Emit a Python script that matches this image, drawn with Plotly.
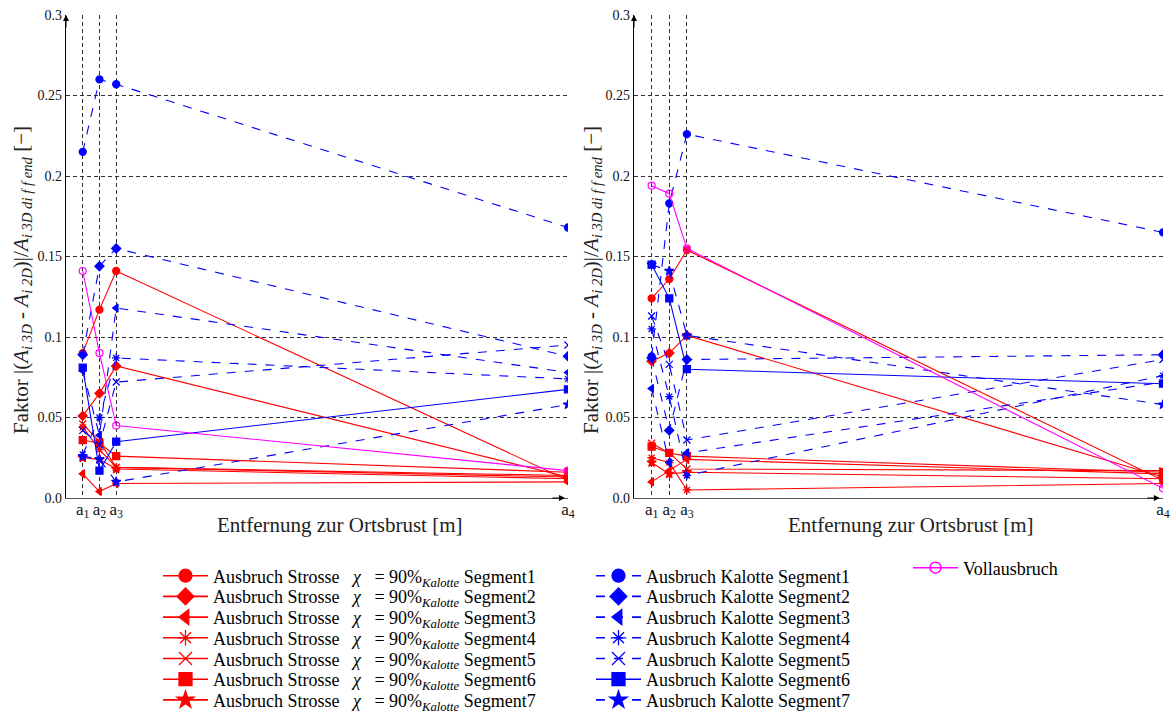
import plotly.graph_objects as go

# Messpunkte entlang der Vortriebsachse
abstand = [1, 2, 3, 30]
abstand_text = ["a<sub>1</sub>", "a<sub>2</sub>", "a<sub>3</sub>", "a<sub>4</sub>"]
segmente = ["Segment1", "Segment2", "Segment3", "Segment4", "Segment5", "Segment6", "Segment7"]
symbole = ["circle", "diamond", "triangle-left", "asterisk-open", "x-thin-open", "square", "star"]
kalotte_dash = ["dash", "dash", "dash", "dash", "dash", "solid", "dash"]

y_ticks = [0, 0.05, 0.1, 0.15, 0.2, 0.25, 0.3]
y_ticktext = ["0.0", "0.05", "0.1", "0.15", "0.2", "0.25", "0.3"]

# linkes Diagramm
strosse_links = [
    [0.090, 0.117, 0.141, 0.011],
    [0.051, 0.065, 0.082, 0.013],
    [0.015, 0.004, 0.009, 0.010],
    [0.044, 0.030, 0.019, 0.013],
    [0.046, 0.035, 0.019, 0.014],
    [0.036, 0.034, 0.026, 0.016],
    [0.025, 0.024, 0.018, 0.012],
]
kalotte_links = [
    [0.215, 0.260, 0.257, 0.168],
    [0.089, 0.144, 0.155, 0.088],
    [0.079, 0.039, 0.118, 0.078],
    [0.027, 0.050, 0.087, 0.074],
    [0.042, 0.033, 0.072, 0.095],
    [0.081, 0.017, 0.035, 0.0675],
    [0.026, 0.024, 0.010, 0.058],
]
voll_links = [0.141, 0.090, 0.045, 0.017]

# rechtes Diagramm
strosse_rechts = [
    [0.124, 0.136, 0.154, 0.011],
    [0.085, 0.090, 0.101, 0.013],
    [0.010, 0.017, 0.024, 0.015],
    [0.025, 0.022, 0.005, 0.009],
    [0.034, 0.028, 0.018, 0.017],
    [0.032, 0.028, 0.026, 0.016],
    [0.022, 0.015, 0.016, 0.012],
]
kalotte_rechts = [
    [0.088, 0.183, 0.226, 0.165],
    [0.087, 0.042, 0.086, 0.089],
    [0.068, 0.022, 0.028, 0.072],
    [0.105, 0.063, 0.014, 0.076],
    [0.113, 0.083, 0.036, 0.086],
    [0.145, 0.124, 0.080, 0.071],
    [0.145, 0.141, 0.101, 0.058],
]
voll_rechts = [0.194, 0.189, 0.155, 0.006]

ROT = "#ff0000"
BLAU = "#0000ff"
MAGENTA = "#ff00ff"
SCHRIFT = "Liberation Serif"
NB = "\u00a0"

W, H = 1172, 713
PLOT_TOP, PLOT_BOTTOM = 15, 498


def paper_y(py):
    return (PLOT_BOTTOM - py) / (PLOT_BOTTOM - PLOT_TOP)


fig = go.Figure()


def marker(symbol, color, size):
    return dict(symbol=symbol, size=size, color=color,
                line=dict(color=color, width=1.3))


panels = [
    ("x", "y", strosse_links, kalotte_links, voll_links),
    ("x2", "y2", strosse_rechts, kalotte_rechts, voll_rechts),
]
for xa, ya, strosse, kalotte, voll in panels:
    for i, werte in enumerate(strosse):
        fig.add_trace(go.Scatter(
            x=abstand, y=werte, xaxis=xa, yaxis=ya, mode="lines+markers",
            line=dict(color=ROT, width=1.1),
            marker=marker(symbole[i], ROT, 7), showlegend=False))
    for i, werte in enumerate(kalotte):
        fig.add_trace(go.Scatter(
            x=abstand, y=werte, xaxis=xa, yaxis=ya, mode="lines+markers",
            line=dict(color=BLAU, width=1.1, dash=kalotte_dash[i]),
            marker=marker(symbole[i], BLAU, 7), showlegend=False))
    fig.add_trace(go.Scatter(
        x=abstand, y=voll, xaxis=xa, yaxis=ya, mode="lines+markers",
        line=dict(color=MAGENTA, width=1.1),
        marker=dict(symbol="circle-open", size=7, color=MAGENTA,
                    line=dict(color=MAGENTA, width=1.2)),
        showlegend=False))

# Legende: jede Zeile bekommt eine eigene Legende, damit der Zeilenabstand passt
legend_common = dict(
    font=dict(family=SCHRIFT, size=18, color="#000"), bgcolor="rgba(0,0,0,0)",
    orientation="v", xanchor="left", yanchor="middle", tracegroupgap=0, itemwidth=45,
)
legend_layouts = {}
ZEILE0, ZEILENABSTAND = 576, 20.7


def legend_id(n):
    return "legend" if n == 1 else f"legend{n}"


n = 1
for i, seg in enumerate(segmente):
    lid = legend_id(n)
    fig.add_trace(go.Scatter(
        x=[None], y=[None], mode="lines+markers", legend=lid,
        name=("Ausbruch Strosse" + NB * 3 + "<i>χ</i>" + NB * 3 + "=" + NB
              + "90%<sub><i>Kalotte</i></sub> " + seg),
        line=dict(color=ROT, width=1.6),
        marker=marker(symbole[i], ROT, 13)))
    legend_layouts[lid] = dict(x=158 / W, y=paper_y(ZEILE0 + ZEILENABSTAND * i), **legend_common)
    n += 1
for i, seg in enumerate(segmente):
    lid = legend_id(n)
    fig.add_trace(go.Scatter(
        x=[None], y=[None], mode="lines+markers", legend=lid,
        name="Ausbruch Kalotte " + seg,
        line=dict(color=BLAU, width=1.6, dash=kalotte_dash[i]),
        marker=marker(symbole[i], BLAU, 13)))
    legend_layouts[lid] = dict(x=591 / W, y=paper_y(ZEILE0 + ZEILENABSTAND * i), **legend_common)
    n += 1
lid = legend_id(n)
fig.add_trace(go.Scatter(
    x=[None], y=[None], mode="lines+markers", legend=lid,
    name="Vollausbruch",
    line=dict(color=MAGENTA, width=1.6),
    marker=dict(symbol="circle-open", size=11, color=MAGENTA,
                line=dict(color=MAGENTA, width=1.5))))
legend_layouts[lid] = dict(x=908 / W, y=paper_y(568), **legend_common)

xaxis_common = dict(
    range=[0, 30], tickvals=abstand, ticktext=abstand_text, ticks="",
    showgrid=True, gridcolor="#333", griddash="4px,3px", gridwidth=1,
    zeroline=False, showline=True, linecolor="#555", linewidth=1.2,
    tickfont=dict(family=SCHRIFT, size=17, color="#111"), ticklabelstandoff=-5,
)
yaxis_common = dict(
    range=[0, 0.3], tickvals=y_ticks, ticktext=y_ticktext, ticks="",
    showgrid=True, gridcolor="#333", griddash="4px,3px", gridwidth=1,
    zeroline=False, showline=True, linecolor="#000", linewidth=1.2,
    tickfont=dict(family=SCHRIFT, size=14, color="#111"),
)

fig.update_layout(
    width=W, height=H,
    margin=dict(l=0, r=0, t=PLOT_TOP, b=H - PLOT_BOTTOM, autoexpand=False),
    paper_bgcolor="white", plot_bgcolor="white",
    xaxis=dict(domain=[66 / W, 568 / W], anchor="y", **xaxis_common),
    yaxis=dict(domain=[0, 1], anchor="x", **yaxis_common),
    xaxis2=dict(domain=[634 / W, 1163 / W], anchor="y2", **xaxis_common),
    yaxis2=dict(domain=[0, 1], anchor="x2", **yaxis_common),
    showlegend=True,
    **legend_layouts,
)

# Achsentitel
xtitel = "Entfernung zur Ortsbrust [m]"
ytitel = ("Faktor |(<i>A</i><sub><i>i" + NB + "3D</i></sub>" + NB + "-" + NB
          + "<i>A</i><sub><i>i" + NB + "2D</i></sub>)|/"
          + "<i>A</i><sub><i>i" + NB + "3D" + NB + "di" + NB + "f" + NB + "f" + NB + "end</i></sub>"
          + NB + "[−]")
for x_px in (340, 911):
    fig.add_annotation(x=x_px / W, y=paper_y(525), xref="paper", yref="paper",
                       text=xtitel, showarrow=False, xanchor="center", yanchor="middle",
                       font=dict(family=SCHRIFT, size=21, color="#222"))
for x_px in (22, 592):
    fig.add_annotation(x=x_px / W, y=paper_y(280), xref="paper", yref="paper",
                       text=ytitel, showarrow=False, xanchor="center", yanchor="middle",
                       textangle=-90, font=dict(family=SCHRIFT, size=21, color="#222"))

# Pfeilspitzen an den Achsenenden
for xr, yr in (("x", "y"), ("x2", "y2")):
    fig.add_annotation(x=0, y=1, xref=f"{xr} domain", yref=f"{yr} domain", text="",
                       showarrow=True, arrowhead=2, arrowsize=1.2, arrowwidth=1,
                       arrowcolor="#000", ax=0, ay=14)
    fig.add_annotation(x=0.994, y=0, xref=f"{xr} domain", yref=f"{yr} domain", text="",
                       showarrow=True, arrowhead=2, arrowsize=1.2, arrowwidth=1,
                       arrowcolor="#000", ax=-14, ay=0)

fig.write_html("out.html")
